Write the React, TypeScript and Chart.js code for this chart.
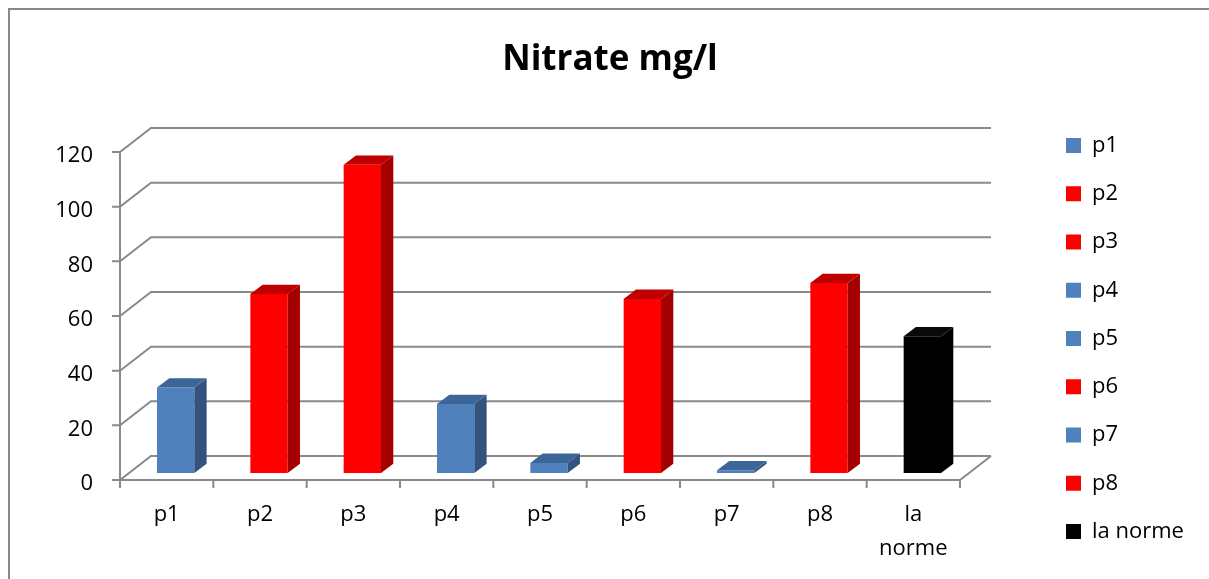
import React, { useEffect, useRef } from 'react';
import { Chart, registerables } from 'chart.js';

Chart.register(...registerables);

// ---- data ----
const chartTitle = 'Nitrate mg/l';
const categories = ['p1', 'p2', 'p3', 'p4', 'p5', 'p6', 'p7', 'p8', 'la norme'];
const nitrateValues = [31.3, 65.5, 112.8, 25.2, 3.7, 63.7, 1.0, 69.5, 50];
const barColors = ['#4F81BD', '#FF0000', '#FF0000', '#4F81BD', '#4F81BD', '#FF0000', '#4F81BD', '#FF0000', '#000000'];
const yMin = 0;
const yMax = 120;
const yStep = 20;

const shades: Record<string, { side: string; top: string }> = {
  '#4F81BD': { side: '#33537E', top: '#3D6698' },
  '#FF0000': { side: '#A50000', top: '#C00000' },
  '#000000': { side: '#000000', top: '#0A0A0A' },
};

export default function App() {
  const ref = useRef<HTMLCanvasElement>(null);

  useEffect(() => {
    const canvas = ref.current;
    if (!canvas) return;
    Chart.defaults.font.family = '"Open Sans"';

    const FRONT = { dx: -9, dy: 7 };
    const BACK = { dx: 22, dy: -17 };
    const DEPTH = { dx: 12.3, dy: 9.3 };
    const GRID = '#8a8a8a';

    const W = 1209;
    const LEGEND_LEFT = 1039.75;
    const PLOT_LEFT = 129;
    const PLOT_RIGHT = 969;
    const TITLE_CX = 610;
    let padLeft = 0;

    const frame3d = {
      id: 'frame3d',
      beforeDraw(chart: any) {
        const { ctx, width, height } = chart;
        ctx.save();
        ctx.fillStyle = '#ffffff';
        ctx.fillRect(0, 0, width, height);
        ctx.strokeStyle = '#888888';
        ctx.lineWidth = 2;
        ctx.strokeRect(9, 9, width + 40, height + 40);
        ctx.restore();
      },
      beforeDatasetsDraw(chart: any) {
        const { ctx, chartArea } = chart;
        const xs = chart.scales.x;
        const ys = chart.scales.y;
        const fx = chartArea.left + FRONT.dx;
        const fxr = chartArea.right + FRONT.dx;
        const bx = chartArea.left + BACK.dx;
        const bxr = chartArea.right + BACK.dx;
        ctx.save();
        ctx.strokeStyle = GRID;
        ctx.lineWidth = 2;
        ys.ticks.forEach((t: any) => {
          const py = ys.getPixelForValue(t.value);
          ctx.beginPath();
          ctx.moveTo(fx - 8, py + FRONT.dy);
          ctx.lineTo(fx, py + FRONT.dy);
          ctx.lineTo(bx, py + BACK.dy);
          ctx.lineTo(bxr, py + BACK.dy);
          ctx.stroke();
        });
        const y0 = ys.getPixelForValue(yMin);
        const yT = ys.getPixelForValue(yMax);
        ctx.beginPath();
        ctx.moveTo(fx, yT + FRONT.dy);
        ctx.lineTo(fx, y0 + FRONT.dy);
        ctx.lineTo(fxr, y0 + FRONT.dy);
        ctx.lineTo(bxr, y0 + BACK.dy);
        ctx.stroke();
        for (let i = 0; i <= categories.length; i++) {
          const px = xs.getPixelForValue(i - 0.5) + FRONT.dx;
          ctx.beginPath();
          ctx.moveTo(px, y0 + FRONT.dy);
          ctx.lineTo(px, y0 + FRONT.dy + 8);
          ctx.stroke();
        }
        ctx.restore();
      },
      afterDatasetsDraw(chart: any) {
        const { ctx } = chart;
        const meta = chart.getDatasetMeta(0);
        ctx.save();
        meta.data.forEach((bar: any, i: number) => {
          const { x, y, base, width } = bar.getProps(['x', 'y', 'base', 'width'], true);
          const l = x - width / 2;
          const r = x + width / 2;
          const sh = shades[barColors[i]];
          ctx.fillStyle = sh.side;
          ctx.beginPath();
          ctx.moveTo(r, y);
          ctx.lineTo(r + DEPTH.dx, y - DEPTH.dy);
          ctx.lineTo(r + DEPTH.dx, base - DEPTH.dy);
          ctx.lineTo(r, base);
          ctx.closePath();
          ctx.fill();
          ctx.fillStyle = sh.top;
          ctx.beginPath();
          ctx.moveTo(l, y);
          ctx.lineTo(l + DEPTH.dx, y - DEPTH.dy);
          ctx.lineTo(r + DEPTH.dx, y - DEPTH.dy);
          ctx.lineTo(r, y);
          ctx.closePath();
          ctx.fill();
        });
        ctx.restore();
      },
    };

    const chart = new Chart(canvas, {
      type: 'bar',
      data: {
        labels: categories,
        datasets: [
          {
            label: chartTitle,
            data: nitrateValues,
            backgroundColor: barColors,
            borderWidth: 0,
            barPercentage: 0.4,
            categoryPercentage: 1,
          },
        ],
      },
      options: {
        responsive: false,
        animation: false,
        devicePixelRatio: 1,
        layout: { padding: { left: 0, right: 0, top: 0, bottom: 0 } },
        scales: {
          x: {
            grid: { display: false, drawTicks: false },
            border: { display: false },
            ticks: {
              color: '#000',
              font: { size: 22, lineHeight: 1.53 },
              padding: 25,
              labelOffset: FRONT.dx,
              maxRotation: 0,
              autoSkip: false,
              callback: (_v: any, i: number) => {
                const s = categories[i];
                return s.includes(' ') ? s.split(' ') : s;
              },
            },
            afterFit: (s: any) => {
              s.height = 106;
            },
          },
          y: {
            min: yMin,
            max: yMax,
            grid: { display: false, drawTicks: false },
            border: { display: false },
            ticks: {
              stepSize: yStep,
              color: '#000',
              font: { size: 22 },
              padding: 36,
              labelOffset: 11,
            },
            afterFit: (s: any) => {
              s.width = PLOT_LEFT - padLeft;
            },
          },
          spacer: {
            axis: 'y',
            type: 'linear',
            position: 'right',
            grid: { display: false, drawTicks: false },
            border: { display: false },
            ticks: { display: false },
            afterFit: (s: any) => {
              s.width = LEGEND_LEFT - PLOT_RIGHT;
            },
          },
        },
        plugins: {
          tooltip: { enabled: false },
          title: {
            display: true,
            text: chartTitle,
            color: '#000',
            font: { size: 35, weight: 'bold', lineHeight: 1.2 },
            padding: { top: 39, bottom: 64 },
          },
          legend: {
            display: true,
            position: 'right',
            align: 'start',
            onClick: () => {},
            title: {
              display: true,
              text: '',
              font: { size: 10, lineHeight: 1 },
              padding: { top: 98.25, bottom: 0 },
            },
            labels: {
              color: '#000',
              font: { size: 22 },
              boxWidth: 15,
              boxHeight: 15,
              padding: 26.25,
              generateLabels: () =>
                categories.map((c, i) => ({
                  text: c,
                  fillStyle: barColors[i],
                  strokeStyle: barColors[i],
                  lineWidth: 0,
                  hidden: false,
                  index: i,
                  fontColor: '#000',
                })),
            },
          },
        },
      } as any,
      plugins: [frame3d],
    });

    const lw = (chart as any).legend.width;
    const padRight = W - LEGEND_LEFT - lw;
    padLeft = Math.max(0, 2 * TITLE_CX - W + padRight);
    (chart.options as any).layout.padding = { left: padLeft, right: padRight, top: 0, bottom: 0 };
    chart.update();

    return () => {
      chart.destroy();
    };
  }, []);

  return (
    <div style={{ position: 'absolute', left: 0, top: 0, width: 1209, height: 579, overflow: 'hidden' }}>
      <canvas ref={ref} width={1209} height={579} style={{ display: 'block' }} />
    </div>
  );
}
